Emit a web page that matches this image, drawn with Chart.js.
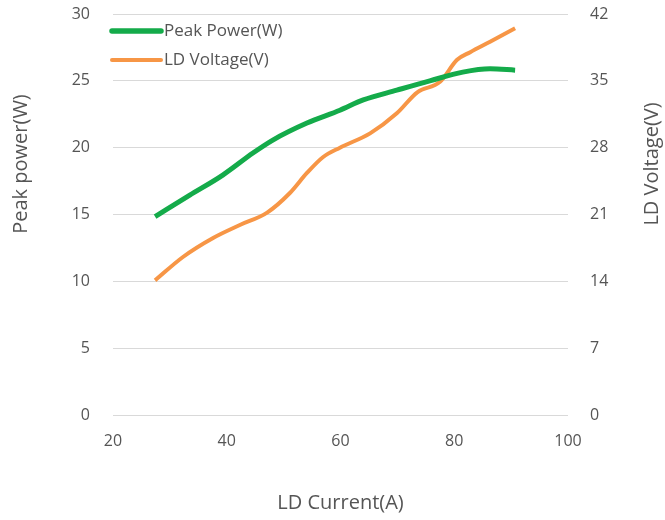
<!DOCTYPE html>
<html>
<head>
<meta charset="utf-8">
<script src="https://cdn.jsdelivr.net/npm/chart.js@4/dist/chart.umd.min.js"></script>
<style>
  html, body { margin: 0; padding: 0; background: #ffffff; }
  #wrap { width: 665px; height: 520px; }
</style>
</head>
<body>
<div id="wrap"><canvas id="c" width="665" height="520"></canvas></div>
<script>
const currentP = [27.4, 33.5, 39.3, 44.6, 48.1, 54.1, 59.9, 64.0, 69.9, 75.7, 81.5, 86.3, 90.7];
const peakPower = [14.85, 16.45, 17.95, 19.6, 20.57, 21.84, 22.8, 23.57, 24.3, 25.0, 25.65, 25.9, 25.8];
const currentV = [27.4, 32.3, 37.6, 42.3, 47.1, 51.1, 54.1, 56.9, 59.9, 65.2, 69.9, 73.5, 77.5, 80.5, 82.8, 86.3, 90.7];
const ldVoltage = [14.1, 16.55, 18.54, 19.9, 21.2, 23.25, 25.35, 27.0, 28.0, 29.5, 31.6, 33.8, 34.9, 37.2, 38.0, 39.1, 40.5];
const seriesNames = ['Peak Power(W)', 'LD Voltage(V)'];
const xTitle = 'LD Current(A)';
const yLeftTitle = 'Peak power(W)';
const yRightTitle = 'LD Voltage(V)';

const GREEN = '#14ab4a';
const ORANGE = '#f79646';
const TXT = '#555555';
const FONT = '"Open Sans", Lato, sans-serif';

const extras = {
  id: 'extras',
  afterDraw(chart) {
    const ctx = chart.ctx;
    ctx.save();
    const items = [
      {name: seriesNames[0], color: GREEN, w: 5.5, y: 31},
      {name: seriesNames[1], color: ORANGE, w: 4, y: 60}
    ];
    ctx.font = '17px ' + FONT;
    ctx.textBaseline = 'middle';
    ctx.textAlign = 'left';
    items.forEach(it => {
      ctx.strokeStyle = it.color;
      ctx.lineWidth = it.w;
      ctx.lineCap = 'round';
      ctx.beginPath();
      ctx.moveTo(112, it.y);
      ctx.lineTo(161, it.y);
      ctx.stroke();
      ctx.fillStyle = TXT;
      ctx.fillText(it.name, 164, it.y);
    });
    ctx.font = '20px ' + FONT;
    ctx.fillStyle = TXT;
    ctx.textAlign = 'center';
    ctx.textBaseline = 'middle';
    [[21, yLeftTitle], [652, yRightTitle]].forEach(([x, t]) => {
      ctx.save();
      ctx.translate(x, 164);
      ctx.rotate(-Math.PI / 2);
      ctx.fillText(t, 0, 0);
      ctx.restore();
    });
    ctx.restore();
  }
};

function zeroPad(s) { s.paddingTop = 0; s.paddingBottom = 0; s.paddingLeft = 0; s.paddingRight = 0; }

new Chart(document.getElementById('c'), {
  type: 'line',
  data: {
    datasets: [
      {
        label: seriesNames[0],
        data: currentP.map((x, i) => ({x, y: peakPower[i]})),
        borderColor: GREEN,
        borderWidth: 5,
        pointRadius: 0,
        cubicInterpolationMode: 'monotone',
        yAxisID: 'y'
      },
      {
        label: seriesNames[1],
        data: currentV.map((x, i) => ({x, y: ldVoltage[i]})),
        borderColor: ORANGE,
        borderWidth: 4,
        pointRadius: 0,
        cubicInterpolationMode: 'monotone',
        yAxisID: 'y1'
      }
    ]
  },
  options: {
    responsive: false,
    animation: false,
    layout: { padding: { top: 14, left: 0, right: 0, bottom: 0 } },
    plugins: { legend: { display: false }, tooltip: { enabled: false } },
    scales: {
      x: {
        type: 'linear', min: 20, max: 100,
        ticks: { stepSize: 20, color: TXT, font: { family: FONT, size: 16 }, padding: 17 },
        grid: { display: false, drawTicks: false },
        border: { display: false },
        title: { display: true, text: xTitle, color: TXT, font: { family: FONT, size: 20 }, padding: { top: 0, bottom: 5 } },
        afterFit(s) { s.height = 105; zeroPad(s); }
      },
      y: {
        position: 'left', min: 0, max: 30,
        ticks: { stepSize: 5, color: TXT, font: { family: FONT, size: 16 }, padding: 23 },
        grid: { color: '#d9d9d9', lineWidth: 1, drawTicks: false },
        border: { display: false },
        afterFit(s) { s.width = 113; zeroPad(s); }
      },
      y1: {
        position: 'right', min: 0, max: 42,
        ticks: { stepSize: 7, color: TXT, font: { family: FONT, size: 16 }, padding: 22 },
        grid: { drawOnChartArea: false, drawTicks: false },
        border: { display: false },
        afterFit(s) { s.width = 97; zeroPad(s); }
      }
    }
  },
  plugins: [extras]
});
</script>
</body>
</html>
